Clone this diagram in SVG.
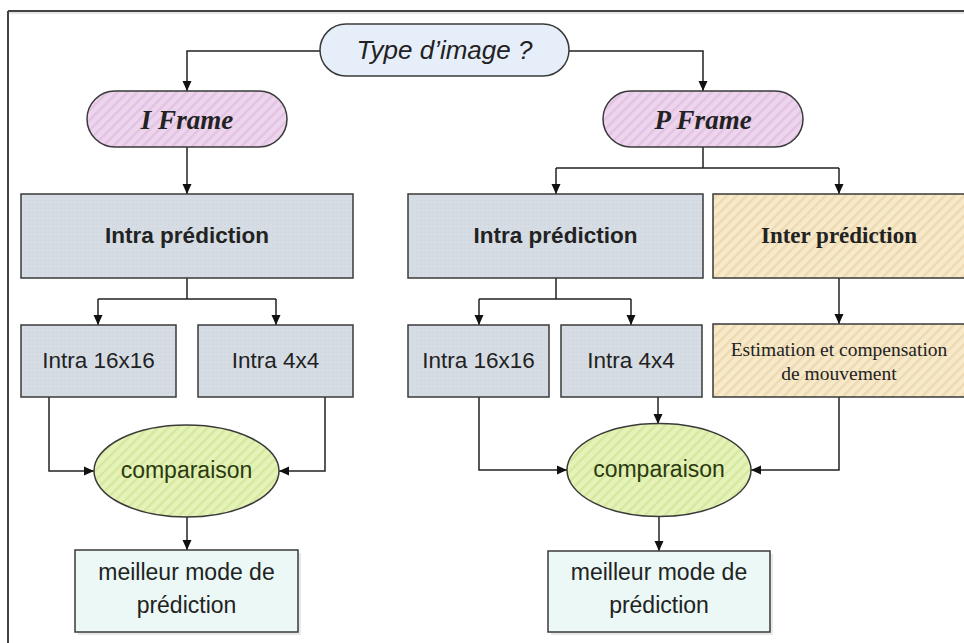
<svg xmlns="http://www.w3.org/2000/svg" width="964" height="643" viewBox="0 0 964 643">
  <defs>
    <pattern id="hPink" width="7" height="7" patternUnits="userSpaceOnUse" patternTransform="rotate(45)">
      <rect width="7" height="7" fill="#eed5ee"/>
      <rect width="2.5" height="7" fill="#e2c3e2"/>
    </pattern>
    <pattern id="hBeige" width="7" height="7" patternUnits="userSpaceOnUse" patternTransform="rotate(45)">
      <rect width="7" height="7" fill="#f8e9c9"/>
      <rect width="2.5" height="7" fill="#ecdab4"/>
    </pattern>
    <pattern id="hGreen" width="7" height="7" patternUnits="userSpaceOnUse" patternTransform="rotate(45)">
      <rect width="7" height="7" fill="#e6f3b8"/>
      <rect width="2.5" height="7" fill="#d6e8a0"/>
    </pattern>
    <pattern id="dGray" width="4" height="4" patternUnits="userSpaceOnUse">
      <rect width="4" height="4" fill="#d6dce4"/>
      <rect width="1" height="1" fill="#cdd3dc"/>
    </pattern>
    <marker id="arr" viewBox="0 0 10 10" refX="10" refY="5" markerWidth="10" markerHeight="10" markerUnits="userSpaceOnUse" orient="auto">
      <path d="M0,0.5 L10,5 L0,9.5 z" fill="#111"/>
    </marker>
  </defs>
  <style>
    .box { stroke: #3a3a3a; stroke-width: 1.5; }
    .gray { fill: url(#dGray); }
    .pink { fill: url(#hPink); }
    .beige { fill: url(#hBeige); }
    .green { fill: url(#hGreen); }
    .cyan { fill: #ebf8f5; }
    .blue { fill: #e6eef9; }
    .shadow { fill: #d8d8d8; opacity: 0.6; }
    .sans { font-family: "Liberation Sans", Arial, sans-serif; fill: #222; text-anchor: middle; }
    .serif { font-family: "Liberation Serif", "Times New Roman", serif; fill: #222; text-anchor: middle; }
    .conn path { fill: none; stroke: #222; stroke-width: 1.5; marker-end: url(#arr); }
    .conn path.nm { marker-end: none; }
  </style>

  <rect x="0" y="0" width="964" height="643" fill="#ffffff"/>

  <!-- frame -->
  <g id="frame">
    <line x1="8" y1="13" x2="964" y2="13" stroke="#e6e6e6" stroke-width="2"/>
    <line x1="8" y1="11" x2="964" y2="11" stroke="#444" stroke-width="2"/>
    <line x1="8" y1="11" x2="8" y2="643" stroke="#444" stroke-width="2"/>
  </g>

  <!-- connectors -->
  <g id="connectors" class="conn">
    <path d="M320,51 H187 V91"/>
    <path d="M569,51 H703 V91"/>
    <path d="M187,147 V194"/>
    <path class="nm" d="M703,147 V168 M556,168 H839"/>
    <path d="M556,168 V194"/>
    <path d="M839,168 V194"/>
    <path class="nm" d="M187,278 V299 M98,299 H276"/>
    <path d="M98,299 V325"/>
    <path d="M276,299 V325"/>
    <path class="nm" d="M556,278 V299 M479,299 H631"/>
    <path d="M479,299 V325"/>
    <path d="M631,299 V325"/>
    <path d="M839,278 V324"/>
    <path d="M49,397 V471 H94"/>
    <path d="M325,397 V471 H279"/>
    <path d="M187,517 V550"/>
    <path d="M479,397 V470 H567"/>
    <path d="M658,397 V424"/>
    <path d="M839,397 V470 H751"/>
    <path d="M659,516 V551"/>
  </g>

  <g id="type-image">
    <rect class="box blue" x="320" y="24" width="249" height="52" rx="26" ry="26"/>
    <text class="sans" x="444.5" y="59" font-size="26" font-style="italic">Type d’image ?</text>
  </g>

  <g id="i-frame">
    <rect class="box pink" x="87" y="91" width="200" height="56" rx="28" ry="28"/>
    <text class="serif" x="187" y="129" font-size="27" font-weight="bold" font-style="italic">I Frame</text>
  </g>

  <g id="p-frame">
    <rect class="box pink" x="603" y="91" width="200" height="56" rx="28" ry="28"/>
    <text class="serif" x="703" y="129" font-size="27" font-weight="bold" font-style="italic">P Frame</text>
  </g>

  <g id="intra-pred-i">
    <rect class="box gray" x="21" y="194" width="332" height="84"/>
    <text class="sans" x="187" y="243" font-size="22.5" font-weight="bold">Intra prédiction</text>
  </g>

  <g id="intra-pred-p">
    <rect class="box gray" x="408" y="194" width="295" height="84"/>
    <text class="sans" x="555.5" y="243" font-size="22.5" font-weight="bold">Intra prédiction</text>
  </g>

  <g id="inter-pred">
    <rect class="box beige" x="713" y="194" width="254" height="84"/>
    <text class="serif" x="839" y="243" font-size="23" font-weight="bold">Inter prédiction</text>
  </g>

  <g id="intra16-i">
    <rect class="box gray" x="21" y="325" width="155" height="72"/>
    <text class="sans" x="98.5" y="368" font-size="22.5">Intra 16x16</text>
  </g>

  <g id="intra4-i">
    <rect class="box gray" x="198" y="325" width="155" height="72"/>
    <text class="sans" x="275.5" y="368" font-size="22.5">Intra 4x4</text>
  </g>

  <g id="intra16-p">
    <rect class="box gray" x="408" y="325" width="141" height="72"/>
    <text class="sans" x="478.5" y="368" font-size="22.5">Intra 16x16</text>
  </g>

  <g id="intra4-p">
    <rect class="box gray" x="561" y="325" width="141" height="72"/>
    <text class="sans" x="631" y="368" font-size="22.5">Intra 4x4</text>
  </g>

  <g id="estimation">
    <rect class="box beige" x="713" y="324" width="254" height="73"/>
    <text class="serif" x="839" y="356" font-size="19.5">Estimation et compensation</text>
    <text class="serif" x="839" y="380" font-size="19.5">de mouvement</text>
  </g>

  <g id="comparaison-i">
    <ellipse class="box green" cx="186.5" cy="471" rx="92.5" ry="46"/>
    <text class="sans" x="186.5" y="478" font-size="23" style="fill:#2a3a10">comparaison</text>
  </g>

  <g id="comparaison-p">
    <ellipse class="box green" cx="659" cy="470" rx="92" ry="46.5"/>
    <text class="sans" x="659" y="477" font-size="23" style="fill:#2a3a10">comparaison</text>
  </g>

  <g id="meilleur-i">
    <rect class="shadow" x="78" y="553" width="223" height="82"/>
    <rect class="box cyan" x="75" y="550" width="223" height="82"/>
    <text class="sans" x="186.5" y="580" font-size="23">meilleur mode de</text>
    <text class="sans" x="186.5" y="613" font-size="23">prédiction</text>
  </g>

  <g id="meilleur-p">
    <rect class="shadow" x="551" y="554" width="222" height="81"/>
    <rect class="box cyan" x="548" y="551" width="222" height="81"/>
    <text class="sans" x="659" y="580" font-size="23">meilleur mode de</text>
    <text class="sans" x="659" y="613" font-size="23">prédiction</text>
  </g>
</svg>
